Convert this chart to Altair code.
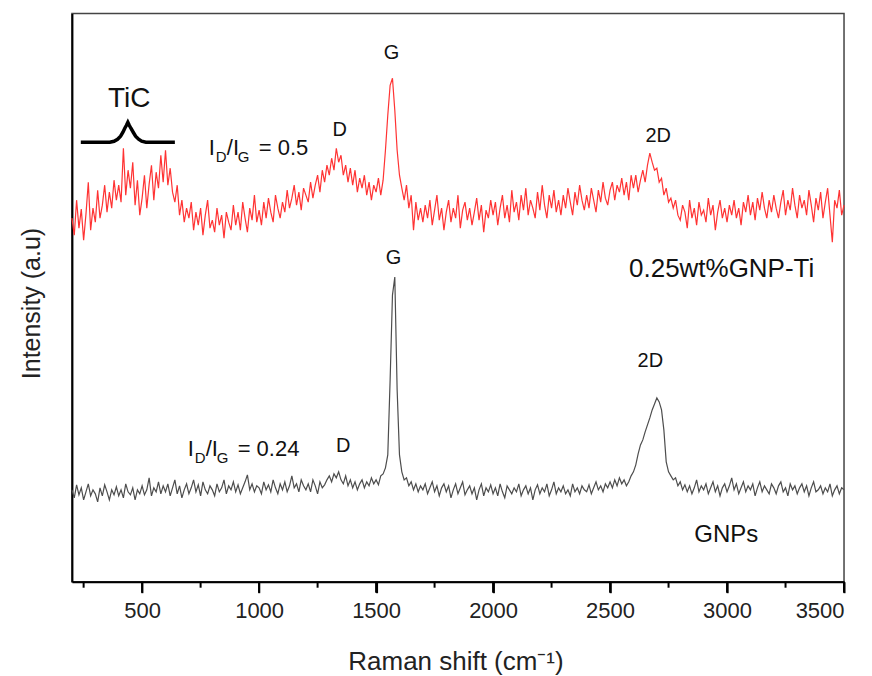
import altair as alt
import pandas as pd

# Raman shift grid (cm^-1), 10 cm^-1 step from 200 to 3500
shift = list(range(200, 3501, 10))

# 0.25wt%GNP-Ti spectrum (arbitrary units)
ti_vals = [
    362, 345, 380, 352, 371, 340, 366, 398, 350, 372,
    358, 390, 362, 375, 395, 368, 388, 372, 400, 380,
    395, 378, 432, 385, 410, 392, 418, 375, 400, 365,
    382, 405, 372, 396, 415, 380, 408, 392, 425, 398,
    430, 395, 412, 388, 378, 395, 365, 380, 358, 372,
    362, 378, 350, 368, 355, 372, 345, 365, 380, 352,
    360, 348, 372, 355, 365, 342, 368, 358, 350, 375,
    355, 368, 350, 378, 362, 348, 372, 360, 385, 358,
    370, 355, 378, 362, 382, 368, 358, 385, 372, 362,
    378, 368, 390, 372, 382, 395, 375, 388, 370, 392,
    385, 378, 398, 382, 395, 405, 388, 410, 398, 415,
    405, 422, 410, 432, 418, 425, 405, 415, 398, 412,
    395, 410, 388, 402, 392, 405, 385, 398, 380, 395,
    388, 402, 385, 400, 430, 465, 495, 502, 470, 430,
    405, 392, 380, 395, 372, 385, 350, 378, 360, 372,
    358, 375, 362, 380, 355, 370, 385, 360, 372, 350,
    368, 380, 358, 372, 362, 385, 352, 370, 378, 360,
    372, 355, 368, 382, 360, 375, 348, 370, 362, 380,
    365, 378, 355, 372, 385, 362, 375, 358, 390, 368,
    378, 360, 385, 370, 392, 365, 380, 372, 362, 388,
    370, 395, 375, 362, 385, 372, 390, 368, 380, 365,
    385, 372, 392, 378, 365, 388, 375, 395, 380, 370,
    385, 372, 392, 380, 368, 390, 378, 398, 382, 375,
    390, 398, 380, 395, 388, 402, 385, 398, 380, 405,
    392, 405, 388, 400, 410, 398, 415, 427, 418, 410,
    412, 398, 402, 385, 392, 378, 382, 372, 380, 365,
    360, 375, 368, 352, 380, 362, 372, 355, 378, 365,
    370, 358, 382, 365, 375, 350, 368, 380, 362, 372,
    358, 375, 365, 380, 362, 372, 355, 378, 368, 385,
    365, 378, 360, 382, 370, 388, 372, 362, 380, 368,
    385, 372, 362, 378, 390, 365, 380, 370, 392, 375,
    362, 385, 372, 380, 365, 390, 375, 358, 382, 370,
    388, 362, 378, 392, 365, 338, 380, 372, 390, 365,
    375,
]

# GNPs spectrum (arbitrary units)
gnp_vals = [
    90, 82, 95, 85, 92, 80, 88, 96, 84, 90,
    86, 78, 92, 84, 95, 88, 80, 90, 85, 93,
    84, 90, 82, 96, 88, 85, 92, 80, 90, 86,
    94, 85, 90, 102, 84, 92, 88, 98, 86, 94,
    88, 96, 84, 92, 100, 86, 94, 82, 90, 96,
    86, 92, 100, 88, 95, 84, 98, 90, 86, 94,
    90, 84, 96, 88, 92, 100, 86, 94, 90, 98,
    88, 95, 86, 92, 98, 105, 90, 96, 88, 94,
    92, 86, 98, 90, 95, 88, 100, 92, 86, 96,
    90, 98, 88, 94, 104, 92, 96, 88, 100, 94,
    90, 96, 88, 100, 94, 86, 98, 92, 95, 100,
    104, 98, 106, 102, 108, 100, 96, 104, 94, 100,
    92, 98, 90, 96, 100, 92, 98, 94, 102, 96,
    100, 95, 104, 106, 112, 125, 200, 285, 303, 190,
    125, 108, 100, 102, 94, 98, 90, 96, 88, 94,
    90, 96, 86, 92, 98, 88, 94, 84, 92, 96,
    88, 94, 82, 90, 96, 86, 92, 98, 85, 90,
    94, 86, 92, 80, 90, 96, 84, 92, 88, 95,
    86, 92, 84, 96, 88, 82, 94, 90, 86, 92,
    88, 96, 84, 90, 94, 86, 92, 80, 90, 95,
    86, 92, 88, 96, 84, 90, 98, 86, 92, 88,
    94, 86, 90, 84, 96, 88, 92, 86, 94, 90,
    88, 95, 86, 92, 98, 90, 94, 88, 96, 92,
    98, 92, 100, 94, 102, 96, 100, 94, 98, 104,
    108, 115, 126, 135, 140, 148, 155, 162, 170, 176,
    182, 178, 170, 150, 118, 108, 104, 100, 102, 94,
    98, 90, 95, 88, 94, 86, 92, 100, 88, 94,
    90, 96, 86, 92, 98, 88, 94, 84, 92, 96,
    88, 94, 102, 90, 96, 86, 92, 98, 88, 94,
    90, 96, 84, 92, 98, 88, 94, 90, 86, 96,
    92, 86, 94, 98, 88, 92, 84, 96, 90, 94,
    86, 92, 96, 88, 94, 84, 92, 98, 88, 90,
    94, 86, 92, 88, 96, 84, 90, 94, 86, 92,
    90,
]

# Axis ticks
major_ticks = [500, 1000, 1500, 2000, 2500, 3000, 3500]
minor_ticks = [250, 750, 1250, 1750, 2250, 2750, 3250]

# Peak labels
label_x = [445, 1344, 1566, 2706, 2977, 1575, 2672, 1359, 2997]
label_y = [473, 444, 521, 438, 303, 316, 213, 128, 38]
label_text = ["TiC", "D", "G", "2D", "0.25wt%GNP-Ti", "G", "2D", "D", "GNPs"]
label_size = [28, 20, 20, 20, 26, 20, 20, 20, 24]

# I_D/I_G ratio annotations
ratio_x = [785, 695]
ratio_y = [425, 124]
ratio_value = ["= 0.5", "= 0.24"]

# TiC bracket outline
brace_x = [238, 362, 380, 395, 408, 418, 426, 433, 439, 445, 452, 462, 472, 485, 498, 516, 640]
brace_y = [438, 438, 439, 441, 444, 448, 452, 455, 458, 455, 452, 448, 444, 441, 439, 438, 438]

FONT = "Liberation Sans"

xs = alt.Scale(domain=[200, 3500], nice=False, zero=False)
ys = alt.Scale(domain=[-2, 567], nice=False, zero=False)

df_ti = pd.DataFrame({"shift": shift, "intensity": ti_vals})
df_gnp = pd.DataFrame({"shift": shift, "intensity": gnp_vals})

x_axis = alt.Axis(
    values=major_ticks, format="d", ticks=True, tickSize=11, tickWidth=2,
    tickColor="black", tickOpacity=1,
    domainColor="black", domainWidth=2, grid=False,
    labelFont=FONT, labelFontSize=22, labelColor="#222", labelPadding=8,
    title="Raman shift (cm\u207b\u00b9)", titleFont=FONT, titleFontSize=26,
    titleFontWeight="normal", titleColor="#222",
    titleBaseline="alphabetic", titleY=88, titleX=384,
)
y_axis = alt.Axis(
    ticks=False, labels=False, grid=False, domainColor="black", domainWidth=2,
    title="Intensity (a.u)", titleFont=FONT, titleFontSize=25,
    titleFontWeight="normal", titleColor="#222", titleAngle=-90,
    titleBaseline="alphabetic", titleX=-32, titleY=290, titleAlign="center",
)


def X(field):
    return alt.X(field, scale=xs, axis=x_axis)


def Y(field):
    return alt.Y(field, scale=ys, axis=y_axis)


gnp_line = alt.Chart(df_gnp).mark_line(color="#4d4d4d", strokeWidth=1.2).encode(
    x=X("shift:Q"), y=Y("intensity:Q"),
)
ti_line = alt.Chart(df_ti).mark_line(color="#ff3333", strokeWidth=1.2).encode(
    x=X("shift:Q"), y=Y("intensity:Q"),
)

minor = alt.Chart(pd.DataFrame({"shift": minor_ticks})).mark_rule(
    color="black", strokeWidth=2, clip=False
).encode(
    x=X("shift:Q"),
    y=alt.value(569), y2=alt.value(575),
)

major = alt.Chart(pd.DataFrame({"shift": major_ticks})).mark_rule(
    color="black", strokeWidth=2, clip=False
).encode(
    x=X("shift:Q"),
    y=alt.value(569), y2=alt.value(580),
)

brace = alt.Chart(pd.DataFrame({"shift": brace_x, "intensity": brace_y, "o": list(range(len(brace_x)))})).mark_line(
    color="black", strokeWidth=3.5
).encode(
    x=X("shift:Q"), y=Y("intensity:Q"),
    order="o:Q",
)

labels = alt.Chart(pd.DataFrame({
    "shift": label_x, "intensity": label_y, "t": label_text, "s": label_size
})).mark_text(font=FONT, color="#111", align="center", baseline="alphabetic").encode(
    x=X("shift:Q"), y=Y("intensity:Q"),
    text="t:N",
    size=alt.Size("s:Q", scale=None, legend=None),
)

df_ratio = pd.DataFrame({"shift": ratio_x, "intensity": ratio_y, "v": ratio_value})


def ratio_piece(text_field, dx, dy, size):
    return alt.Chart(df_ratio).mark_text(
        font=FONT, color="#111", align="left", baseline="alphabetic",
        dx=dx, dy=dy, fontSize=size,
    ).encode(
        x=X("shift:Q"), y=Y("intensity:Q"),
        text=text_field,
    )


ratio_layers = [
    ratio_piece(alt.value("I"), 0, 0, 22),
    ratio_piece(alt.value("D"), 7, 7, 15),
    ratio_piece(alt.value("/I"), 18, 0, 22),
    ratio_piece(alt.value("G"), 29, 7, 15),
    ratio_piece("v:N", 50, 0, 22),
]

chart = alt.layer(
    gnp_line, ti_line, minor, major, brace, labels, *ratio_layers
).properties(
    width=773, height=569,
    padding={"left": 64, "top": 5, "right": 20, "bottom": 94},
    autosize="none",
).configure_view(
    stroke="#444", strokeWidth=1.5
)

chart.save("out.html", embed_options={"renderer": "svg", "actions": False})
